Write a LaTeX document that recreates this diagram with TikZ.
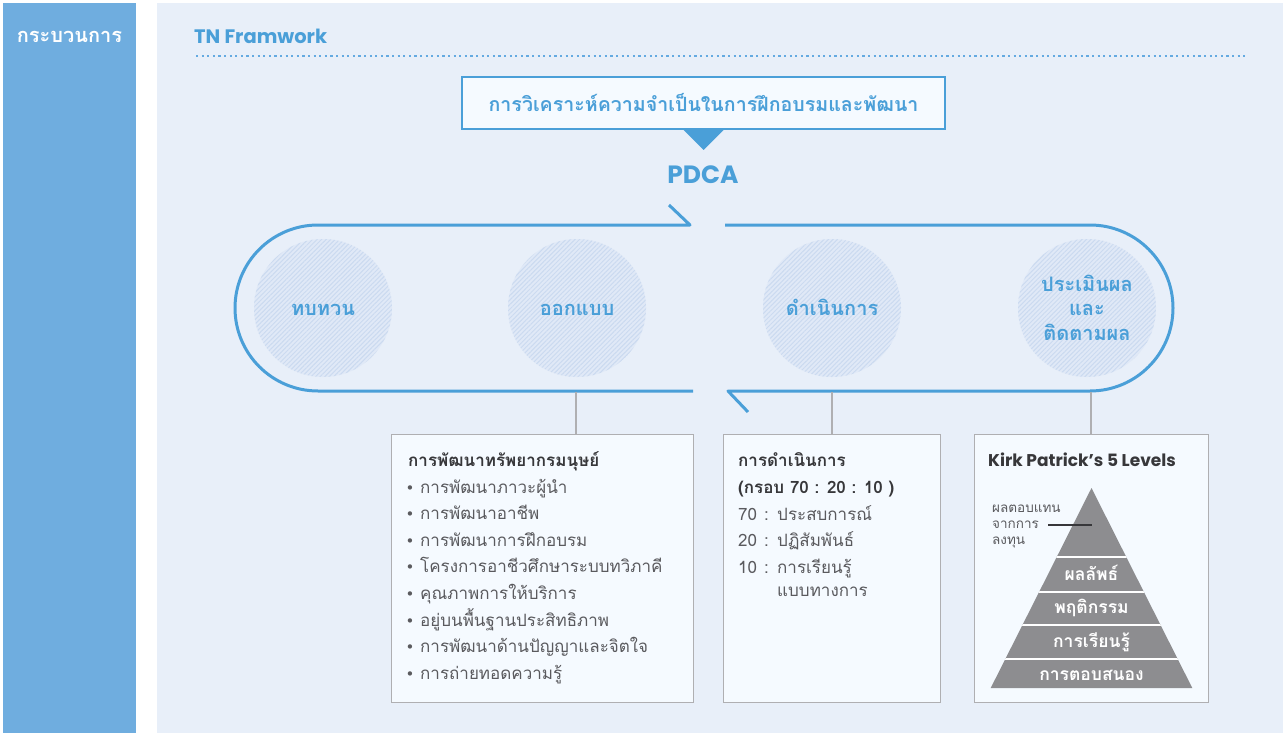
\documentclass[tikz,border=0pt]{standalone}
\usepackage{fontspec}
\setmainfont{Loma}[Script=Thai]
\newfontfamily\lat{Poppins}
\newfontfamily\dv{DejaVu Sans}
\usetikzlibrary{patterns.meta,calc}
\definecolor{barblue}{RGB}{111,173,223}
\definecolor{panel}{RGB}{232,239,249}
\definecolor{mainblue}{RGB}{74,159,216}
\definecolor{dotblue}{RGB}{100,170,225}
\definecolor{boxfill}{RGB}{245,250,255}
\definecolor{boxline}{RGB}{175,175,178}
\definecolor{darktxt}{RGB}{55,55,58}
\definecolor{graytxt}{RGB}{90,90,94}
\definecolor{pyrgray}{RGB}{141,141,144}
\definecolor{hatch}{RGB}{203,218,240}
\definecolor{circfill}{RGB}{224,233,247}
\begin{document}
\begin{tikzpicture}[x=1pt,y=-1pt,
  txt/.style={inner sep=0pt, anchor=base west},
  ttl/.style={txt, font=\fontsize{17}{20}\selectfont\bfseries, text=darktxt},
  itm/.style={txt, font=\fontsize{17}{20}\selectfont, text=graytxt},
  bul/.style={txt, font=\dv\fontsize{15}{18}\selectfont, text=graytxt},
  stagetxt/.style={inner sep=0pt, anchor=base, font=\fontsize{20}{24}\selectfont\bfseries, text=mainblue},
  stage/.style={circle, minimum size=138pt, inner sep=0pt, fill=circfill,
    postaction={pattern={Lines[angle=45,distance=3.2pt,line width=1pt]}, pattern color=hatch}},
  pill/.style={draw=mainblue, line width=3pt, line join=round},
  infobox/.style={draw=boxline, line width=1.3pt, fill=boxfill, anchor=north west, inner sep=0pt},
  conn/.style={draw=boxline, line width=1.2pt},
  pyrtxt/.style={inner sep=0pt, anchor=base, font=\fontsize{17.5}{20}\selectfont\bfseries, text=white},
  anno/.style={txt, font=\fontsize{13.5}{15}\selectfont, text=graytxt},
]
\useasboundingbox (0,0) rectangle (1283,733);
\fill[white] (0,0) rectangle (1283,733);
\fill[barblue] (3,3) rectangle (136,733);
\fill[panel] (157,3) rectangle (1283,733);

\node[inner sep=0pt, anchor=base, font=\fontsize{20}{24}\selectfont\bfseries, text=white] (proc) at (69.5,43) {กระบวนการ};
\node[inner sep=0pt, anchor=base west, font=\lat\fontsize{19.5}{22}\selectfont\bfseries, text=mainblue] (tn) at (194,44) {TN Framwork};
\coordinate (d1) at (196,56);
\coordinate (d2) at (1248,56);
\draw[dotblue, line width=2.2pt, dash pattern=on 2.2pt off 3.4pt] (d1) -- (d2);

% top box
\node[draw=mainblue, line width=2pt, fill=boxfill, minimum width=483pt, minimum height=52pt, inner sep=0pt] (need) at (703.5,103) {};
\node[inner sep=0pt, anchor=base, font=\fontsize{19.6}{22}\selectfont\bfseries, text=mainblue] (needtxt) at (703.5,112) {การวิเคราะห์ความจำเป็นในการฝึกอบรมและพัฒนา};
\fill[mainblue] ($(need.south)+(-20,0)$) -- ($(need.south)+(20,0)$) -- ($(need.south)+(0,20)$) -- cycle;

\node[inner sep=0pt, anchor=base, font=\lat\fontsize{25}{28}\selectfont\bfseries, text=mainblue] (pdca) at (703,184) {PDCA};

% PDCA loop
\draw[pill] (725,225) -- (1090,225) arc (-90:90:83) -- (728,391) -- (748,412);
\draw[pill] (693,391) -- (318,391) arc (90:270:83) -- (690,225) -- (669,205);

% stages
\node[stage] (s1) at (323,308) {};
\node[stage] (s2) at (577,308) {};
\node[stage] (s3) at (832,308) {};
\node[stage] (s4) at (1087,308) {};
\node[stagetxt] (s1t) at (323,315) {ทบทวน};
\node[stagetxt] (s2t) at (577,315) {ออกแบบ};
\node[stagetxt] (s3t) at (832,315) {ดำเนินการ};
\node[stagetxt] (s4a) at (1087,291) {ประเมินผล};
\node[stagetxt] (s4b) at (1087,315) {และ};
\node[stagetxt] (s4c) at (1087,340) {ติดตามผล};

% boxes
\node[infobox, minimum width=302pt, minimum height=268pt] (box1) at (391,434) {};
\node[infobox, minimum width=217pt, minimum height=268pt] (box2) at (723,434) {};
\node[infobox, minimum width=234pt, minimum height=268pt] (box3) at (974,434) {};

\coordinate (b1) at (576,392);
\coordinate (b2) at (832,392);
\coordinate (b3) at (1091,392);
\draw[conn] (b1) -- (b1 |- box1.north);
\draw[conn] (b2) -- (b2 |- box2.north);
\draw[conn] (b3) -- (b3 |- box3.north);

% box 1
\node[ttl] (h1) at (408,466) {การพัฒนาทรัพยากรมนุษย์};
\foreach \t [count=\i] in {การพัฒนาภาวะผู้นำ,การพัฒนาอาชีพ,การพัฒนาการฝึกอบรม,โครงการอาชีวศึกษาระบบทวิภาคี,คุณภาพการให้บริการ,อยู่บนพื้นฐานประสิทธิภาพ,การพัฒนาด้านปัญญาและจิตใจ,การถ่ายทอดความรู้}{
  \node[bul] (bu\i) at (405.5,{493+26.6*(\i-1)}) {•};
  \node[itm] (it\i) at (420,{493+26.6*(\i-1)}) {\t};
}

% box 2
\node[ttl] (h2) at (738,466) {การดำเนินการ};
\node[ttl] (h2b) at (738,493) {(กรอบ 70 : 20 : 10 )};
\node[itm] (n70) at (738,520) {70};
\node[itm] (c70) at (764,520) {:};
\node[itm] (t70) at (777,520) {ประสบการณ์};
\node[itm] (n20) at (738,546) {20};
\node[itm] (c20) at (764,546) {:};
\node[itm] (t20) at (777,546) {ปฏิสัมพันธ์};
\node[itm] (n10) at (738,573) {10};
\node[itm] (c10) at (764,573) {:};
\node[itm] (t10) at (777,573) {การเรียนรู้};
\node[itm] (t10b) at (777,596) {แบบทางการ};

% box 3
\node[inner sep=0pt, anchor=base west, font=\lat\fontsize{17}{20}\selectfont\bfseries, text=darktxt] (h3) at (988,466) {Kirk Patrick’s 5 Levels};
\coordinate (apex) at (1091.5,488);
\coordinate (bl) at (990.7,688);
\coordinate (br) at (1192.3,688);
\fill[pyrgray] (apex) -- (br) -- (bl) -- cycle;
\begin{scope}
  \clip (apex) -- (br) -- (bl) -- cycle;
  \foreach \yy in {557,592,625,659}{
    \draw[white, line width=2pt] (980,\yy) -- (1200,\yy);
  }
\end{scope}
\node[pyrtxt] (l4) at (1091.5,580) {ผลลัพธ์};
\node[pyrtxt] (l3) at (1091.5,613) {พฤติกรรม};
\node[pyrtxt] (l2) at (1091.5,647) {การเรียนรู้};
\node[pyrtxt] (l1) at (1091.5,680) {การตอบสนอง};
\node[anno] (r1) at (992,512) {ผลตอบแทน};
\node[anno] (r2) at (992,528) {จากการ};
\node[anno] (r3) at (992,544) {ลงทุน};
\coordinate (rl1) at (1048,525);
\coordinate (rl2) at (1092,525);
\draw[darktxt, line width=1.6pt] (rl1) -- (rl2);
\end{tikzpicture}
\end{document}
